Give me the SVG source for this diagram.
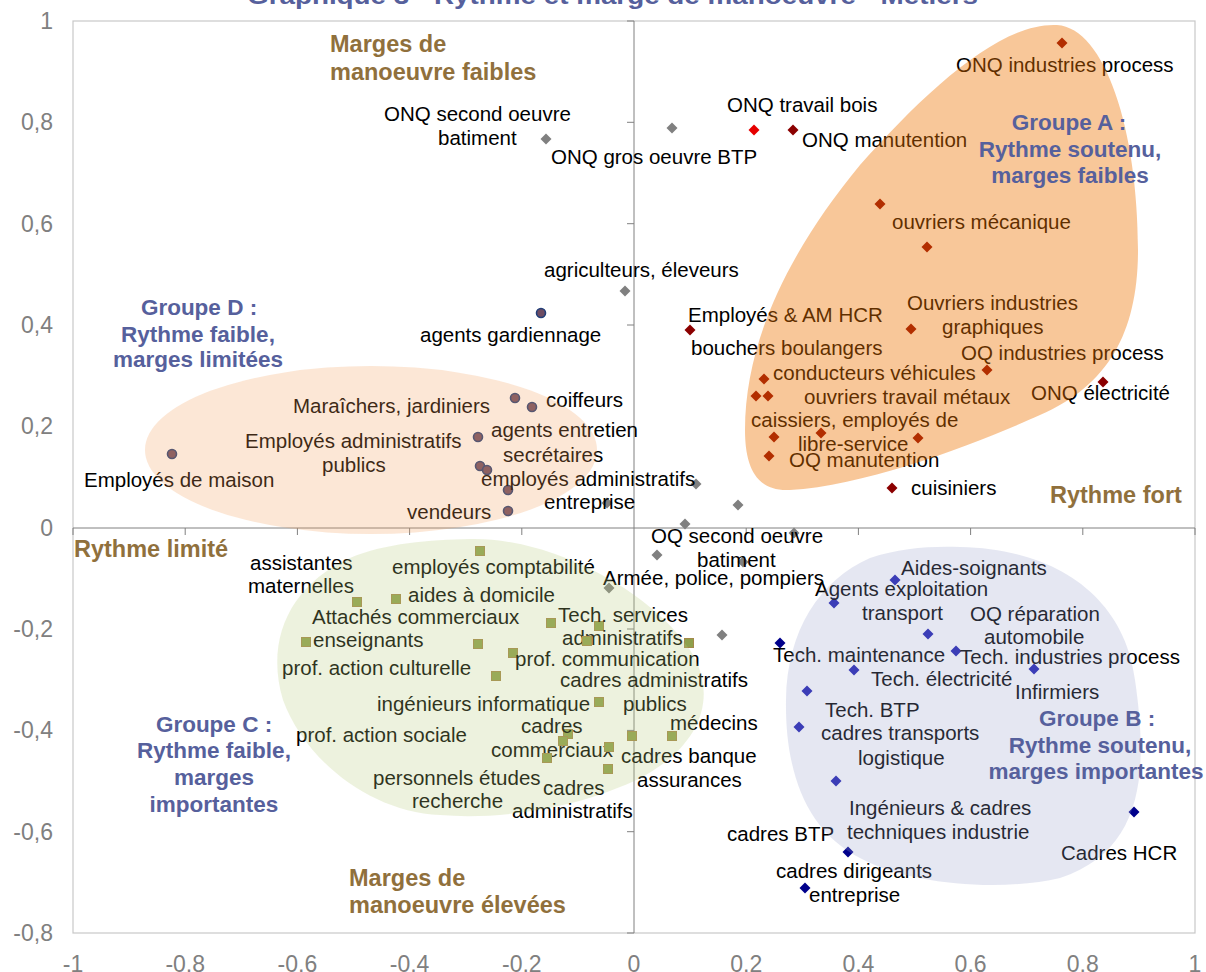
<svg xmlns="http://www.w3.org/2000/svg" width="1206" height="972" viewBox="0 0 1206 972">
<style>
text{font-family:"Liberation Sans",Arial,Helvetica,sans-serif}
.l{font-size:20.5px;fill:#000}
.g{font-size:22.5px;font-weight:bold;fill:#56609c;text-anchor:middle}
.b{font-size:23.5px;font-weight:bold;fill:#90703c}
.t{font-size:23px;fill:#808080}
.te{text-anchor:end}
.tm{text-anchor:middle}
.dg{fill:#808080}
.dr{fill:#8b0000}
.rb{fill:#e60000}
.db{fill:#1c1cb0}
.dn{fill:#00008b}
.ci{fill:#6e4c63;stroke:#233f78;stroke-width:1.6}
.sq{fill:#8fa04c;stroke:#a3894a;stroke-width:1}
.ax{stroke:#808080;stroke-width:1;fill:none}
</style>
<defs>
<path id="d" d="M0,-5.5L5.5,0L0,5.5L-5.5,0Z"/>
<rect id="s" x="-4.5" y="-4.5" width="9" height="9"/>
<circle id="c" r="4.5"/>
</defs>
<rect width="1206" height="972" fill="#fff"/>
<text x="247" y="4" font-size="24" font-weight="bold" fill="#56609c" textLength="731" lengthAdjust="spacingAndGlyphs">Graphique 3 - Rythme et marge de manoeuvre - Métiers</text>

<g id="axes">
<rect x="73" y="21" width="1122" height="912" fill="none" stroke="#c8c8c8" stroke-width="1.2"/>
<line class="ax" x1="634" y1="21" x2="634" y2="933"/>
<line class="ax" x1="73" y1="528" x2="1195" y2="528"/>
<path class="ax" d="M627,21H634M627,122.3H634M627,223.7H634M627,325H634M627,426.4H634M627,629H634M627,730.4H634M627,831.7H634M627,933H634M73,528V535M185.2,528V535M297.4,528V535M409.6,528V535M521.8,528V535M746.2,528V535M858.4,528V535M970.6,528V535M1082.8,528V535M1195,528V535"/>
<g class="t te">
<text x="53" y="29">1</text>
<text x="53" y="130">0,8</text>
<text x="53" y="231.5">0,6</text>
<text x="53" y="333">0,4</text>
<text x="53" y="434">0,2</text>
<text x="53" y="536">0</text>
<text x="53" y="637">-0,2</text>
<text x="53" y="738">-0,4</text>
<text x="53" y="839.5">-0,6</text>
<text x="53" y="941">-0,8</text>
</g>
<g class="t tm">
<text x="73" y="972">-1</text>
<text x="185.2" y="972">-0,8</text>
<text x="297.4" y="972">-0,6</text>
<text x="409.6" y="972">-0,4</text>
<text x="521.8" y="972">-0,2</text>
<text x="634" y="972">0</text>
<text x="746.2" y="972">0,2</text>
<text x="858.4" y="972">0,4</text>
<text x="970.6" y="972">0,6</text>
<text x="1082.8" y="972">0,8</text>
<text x="1195" y="972">1</text>
</g>
</g>

<g id="connectors"></g>

<!-- gray points -->
<g id="onq-second-oeuvre"><use href="#d" class="dg" x="546" y="139"/><text class="l" x="384" y="121">ONQ second oeuvre</text><text class="l" x="438" y="145">batiment</text></g>
<g id="onq-gros-oeuvre"><use href="#d" class="dg" x="672" y="128"/><text class="l" x="551" y="164">ONQ gros oeuvre BTP</text></g>
<g id="agriculteurs"><use href="#d" class="dg" x="625" y="291"/><text class="l" x="544" y="277">agriculteurs, éleveurs</text></g>
<g id="oq-second-oeuvre"><use href="#d" class="dg" x="794" y="533"/><use href="#d" class="dg" x="743" y="562"/><text class="l" x="651" y="543">OQ second oeuvre</text><text class="l" x="697" y="567">batiment</text></g>
<g id="armee-police"><use href="#d" class="dg" x="609" y="588"/><text class="l" x="603" y="585">Armée, police, pompiers</text></g>
<g id="other-gray"><use href="#d" class="dg" x="696" y="484"/><use href="#d" class="dg" x="607" y="503"/><use href="#d" class="dg" x="738" y="505"/><use href="#d" class="dg" x="685" y="524"/><use href="#d" class="dg" x="657" y="555"/><use href="#d" class="dg" x="722" y="635"/></g>

<!-- group A -->
<g id="a-onq-industries-process"><use href="#d" class="dr" x="1062" y="43"/><text class="l" x="956" y="72">ONQ industries process</text></g>
<g id="a-onq-travail-bois"><use href="#d" class="rb" x="754" y="130"/><text class="l" x="727" y="112">ONQ travail bois</text></g>
<g id="a-onq-manutention"><use href="#d" class="dr" x="793" y="130"/><text class="l" x="802" y="147">ONQ manutention</text></g>
<g id="a-ouvriers-mecanique"><use href="#d" class="dr" x="880" y="204"/><use href="#d" class="dr" x="927" y="247"/><text class="l" x="892" y="229">ouvriers mécanique</text></g>
<g id="a-ouvriers-industries-graphiques"><use href="#d" class="dr" x="911" y="329"/><text class="l" x="907" y="310">Ouvriers industries</text><text class="l" x="942" y="334">graphiques</text></g>
<g id="a-employes-am-hcr"><use href="#d" class="dr" x="690" y="330"/><text class="l" x="688" y="322">Employés &amp; AM HCR</text></g>
<g id="a-bouchers-boulangers"><use href="#d" class="dr" x="756" y="396"/><text class="l" x="691" y="355">bouchers boulangers</text></g>
<g id="a-conducteurs-vehicules"><use href="#d" class="dr" x="764" y="379"/><text class="l" x="773" y="380">conducteurs véhicules</text></g>
<g id="a-oq-industries-process"><use href="#d" class="dr" x="987" y="370"/><text class="l" x="961" y="360">OQ industries process</text></g>
<g id="a-onq-electricite"><use href="#d" class="dr" x="1103" y="382"/><text class="l" x="1031" y="400">ONQ électricité</text></g>
<g id="a-ouvriers-travail-metaux"><use href="#d" class="dr" x="768" y="396"/><text class="l" x="804" y="404">ouvriers travail métaux</text></g>
<g id="a-caissiers"><use href="#d" class="dr" x="774" y="437"/><use href="#d" class="dr" x="821" y="433"/><text class="l" x="751" y="427">caissiers, employés de</text><text class="l" x="798" y="451">libre-service</text></g>
<g id="a-oq-manutention"><use href="#d" class="dr" x="769" y="456"/><use href="#d" class="dr" x="918" y="438"/><text class="l" x="789" y="467">OQ manutention</text></g>
<g id="a-cuisiniers"><use href="#d" class="dr" x="892" y="488"/><text class="l" x="911" y="495">cuisiniers</text></g>

<!-- group D -->
<g id="d-employes-maison"><use href="#c" class="ci" x="172" y="454"/><text class="l" x="84" y="487">Employés de maison</text></g>
<g id="d-agents-gardiennage"><use href="#c" class="ci" x="541" y="313"/><text class="l" x="420" y="342">agents gardiennage</text></g>
<g id="d-maraichers"><use href="#c" class="ci" x="515" y="398"/><text class="l" x="293" y="413">Maraîchers, jardiniers</text></g>
<g id="d-coiffeurs"><use href="#c" class="ci" x="532" y="407"/><text class="l" x="546" y="407">coiffeurs</text></g>
<g id="d-agents-entretien"><use href="#c" class="ci" x="478" y="437"/><text class="l" x="491" y="437">agents entretien</text></g>
<g id="d-employes-admin-publics"><use href="#c" class="ci" x="480" y="466"/><text class="l" x="245" y="448">Employés administratifs</text><text class="l" x="322" y="472">publics</text></g>
<g id="d-secretaires"><use href="#c" class="ci" x="487" y="470"/><text class="l" x="503" y="462">secrétaires</text></g>
<g id="d-employes-admin-entreprise"><use href="#c" class="ci" x="508" y="490"/><text class="l" x="481" y="486">employés administratifs</text><text class="l" x="544" y="509">entreprise</text></g>
<g id="d-vendeurs"><use href="#c" class="ci" x="508" y="511"/><text class="l" x="407" y="519">vendeurs</text></g>

<!-- group C -->
<g id="c-assistantes"><use href="#s" class="sq" x="357" y="602"/><text class="l" x="250" y="570">assistantes</text><text class="l" x="248" y="593">maternelles</text></g>
<g id="c-employes-comptabilite"><use href="#s" class="sq" x="480" y="551"/><text class="l" x="392" y="574">employés comptabilité</text></g>
<g id="c-aides-domicile"><use href="#s" class="sq" x="396" y="599"/><text class="l" x="408" y="602">aides à domicile</text></g>
<g id="c-attaches-commerciaux"><use href="#s" class="sq" x="478" y="644"/><text class="l" x="312" y="624">Attachés commerciaux</text></g>
<g id="c-tech-services"><use href="#s" class="sq" x="551" y="623"/><use href="#s" class="sq" x="599" y="626"/><text class="l" x="558" y="622">Tech. services</text><text class="l" x="562" y="645">administratifs</text></g>
<g id="c-enseignants"><use href="#s" class="sq" x="306" y="642"/><text class="l" x="313" y="647">enseignants</text></g>
<g id="c-prof-communication"><use href="#s" class="sq" x="513" y="653"/><text class="l" x="515" y="666">prof. communication</text></g>
<g id="c-prof-action-culturelle"><use href="#s" class="sq" x="496" y="676"/><text class="l" x="282" y="675">prof. action culturelle</text></g>
<g id="c-cadres-admin-publics"><use href="#s" class="sq" x="689" y="643"/><use href="#s" class="sq" x="587" y="641"/><text class="l" x="560" y="687">cadres administratifs</text><text class="l" x="623" y="711">publics</text></g>
<g id="c-ingenieurs-informatique"><use href="#s" class="sq" x="599" y="702"/><text class="l" x="377" y="711">ingénieurs informatique</text></g>
<g id="c-medecins"><use href="#s" class="sq" x="672" y="736"/><text class="l" x="670" y="730">médecins</text></g>
<g id="c-cadres-commerciaux"><use href="#s" class="sq" x="568" y="734"/><use href="#s" class="sq" x="563" y="741"/><text class="l" x="521" y="733">cadres</text><text class="l" x="491" y="757">commerciaux</text></g>
<g id="c-prof-action-sociale"><use href="#s" class="sq" x="547" y="758"/><text class="l" x="296" y="742">prof. action sociale</text></g>
<g id="c-cadres-banque"><use href="#s" class="sq" x="632" y="736"/><text class="l" x="621" y="763">cadres banque</text><text class="l" x="637" y="787">assurances</text></g>
<g id="c-personnels-etudes"><use href="#s" class="sq" x="609" y="747"/><text class="l" x="373" y="785">personnels études</text><text class="l" x="412" y="808">recherche</text></g>
<g id="c-cadres-administratifs"><use href="#s" class="sq" x="608" y="769"/><text class="l" x="543" y="795">cadres</text><text class="l" x="512" y="818">administratifs</text></g>

<!-- group B -->
<g id="b-aides-soignants"><use href="#d" class="db" x="895" y="580"/><text class="l" x="901" y="575">Aides-soignants</text></g>
<g id="b-agents-exploitation"><use href="#d" class="db" x="834" y="603"/><text class="l" x="815" y="596">Agents exploitation</text><text class="l" x="862" y="620">transport</text></g>
<g id="b-oq-reparation"><use href="#d" class="db" x="928" y="634"/><text class="l" x="970" y="621">OQ réparation</text><text class="l" x="984" y="644">automobile</text></g>
<g id="b-tech-maintenance"><use href="#d" class="dn" x="780" y="643"/><text class="l" x="773" y="662">Tech. maintenance</text></g>
<g id="b-tech-industries-process"><use href="#d" class="db" x="956" y="651"/><text class="l" x="960" y="664">Tech. industries process</text></g>
<g id="b-tech-electricite"><use href="#d" class="db" x="854" y="670"/><text class="l" x="871" y="686">Tech. électricité</text></g>
<g id="b-infirmiers"><use href="#d" class="db" x="1034" y="669"/><text class="l" x="1015" y="699">Infirmiers</text></g>
<g id="b-tech-btp"><use href="#d" class="db" x="807" y="691"/><text class="l" x="825" y="717">Tech. BTP</text></g>
<g id="b-cadres-transports"><use href="#d" class="db" x="799" y="727"/><text class="l" x="821" y="740">cadres transports</text><text class="l" x="858" y="765">logistique</text></g>
<g id="b-ingenieurs-cadres"><use href="#d" class="db" x="836" y="781"/><text class="l" x="849" y="815">Ingénieurs &amp; cadres</text><text class="l" x="847" y="839">techniques industrie</text></g>
<g id="b-cadres-btp"><use href="#d" class="dn" x="848" y="852"/><text class="l" x="727" y="841">cadres BTP</text></g>
<g id="b-cadres-hcr"><use href="#d" class="dn" x="1134" y="812"/><text class="l" x="1061" y="860">Cadres HCR</text></g>
<g id="b-cadres-dirigeants"><use href="#d" class="dn" x="805" y="888"/><text class="l" x="776" y="878">cadres dirigeants</text><text class="l" x="809" y="902">entreprise</text></g>

<!-- translucent group areas -->
<g id="areas">
<path id="area-a" fill="rgb(238,115,0)" fill-opacity="0.4" d="M1057,25 C1105,28 1138,130 1138,250 C1138,330 1110,385 1040,415 C980,442 870,485 790,490 C755,492 745,465 745,430 C745,340 790,250 860,165 C925,92 1000,22 1057,25 Z"/>
<ellipse id="area-d" cx="371" cy="450" rx="226" ry="84" fill="rgb(245,160,90)" fill-opacity="0.25"/>
<path id="area-c" fill="rgb(185,205,125)" fill-opacity="0.25" d="M470,539 C550,537 650,590 690,650 C725,705 690,760 620,787 C570,808 500,820 440,815 C370,812 305,760 283,700 C265,640 290,585 350,558 C385,543 430,540 470,539 Z"/>
<path id="area-b" fill="rgb(150,160,205)" fill-opacity="0.25" d="M960,547 C1060,549 1125,600 1135,680 C1148,770 1145,850 1060,878 C1000,892 910,885 860,858 C805,830 785,770 786,700 C787,630 820,580 870,558 C900,548 930,546 960,547 Z"/>
</g>

<!-- region labels -->
<g id="label-groupe-a" class="g"><text x="1069" y="130">Groupe A :</text><text x="1070" y="157">Rythme soutenu,</text><text x="1070" y="183">marges faibles</text></g>
<g id="label-groupe-d" class="g"><text x="199" y="315">Groupe D :</text><text x="198" y="342">Rythme faible,</text><text x="198" y="367">marges limitées</text></g>
<g id="label-groupe-c" class="g"><text x="214" y="732">Groupe C :</text><text x="214" y="758">Rythme faible,</text><text x="214" y="785">marges</text><text x="214" y="812">importantes</text></g>
<g id="label-groupe-b" class="g"><text x="1097" y="726">Groupe B :</text><text x="1100" y="753">Rythme soutenu,</text><text x="1096" y="779">marges importantes</text></g>
<g id="label-marges-faibles" class="b"><text x="330" y="52">Marges de</text><text x="330" y="80">manoeuvre faibles</text></g>
<g id="label-marges-elevees" class="b"><text x="349" y="886">Marges de</text><text x="349" y="913">manoeuvre élevées</text></g>
<g id="label-rythme-limite" class="b"><text x="74" y="557">Rythme limité</text></g>
<g id="label-rythme-fort" class="b"><text x="1050" y="503">Rythme fort</text></g>
</svg>
